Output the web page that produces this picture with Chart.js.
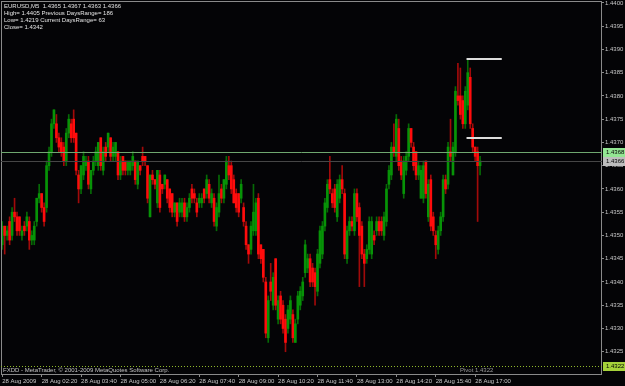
<!DOCTYPE html>
<html>
<head>
<meta charset="utf-8">
<script src="https://cdn.jsdelivr.net/npm/chart.js@4.4.1/dist/chart.umd.min.js"></script>
<style>
  html, body { margin: 0; padding: 0; background: #040406; overflow: hidden; }
  #c { display: block; }
</style>
</head>
<body>
<canvas id="c" width="625" height="386"></canvas>
<script>
// EURUSD M5, 28 Aug 2009, first bar 01:00, one bar every 5 minutes
const opens = [
  1.4348,1.4352,1.4350,1.4353,1.4350,1.4355,1.4354,1.4354,1.4350,1.4352,
  1.4352,1.4353,1.4349,1.4349,1.4353,1.4358,1.4359,1.4356,1.4356,1.4365,
  1.4368,1.4374,1.4374,1.4371,1.4370,1.4369,1.4366,1.4372,1.4374,1.4375,
  1.4372,1.4363,1.4360,1.4363,1.4365,1.4366,1.4360,1.4364,1.4366,1.4365,
  1.4371,1.4364,1.4369,1.4369,1.4371,1.4367,1.4367,1.4368,1.4363,1.4367,
  1.4366,1.4364,1.4364,1.4365,1.4366,1.4361,1.4365,1.4367,1.4367,1.4365,
  1.4354,1.4363,1.4362,1.4357,1.4363,1.4361,1.4361,1.4362,1.4360,1.4359,
  1.4355,1.4357,1.4355,1.4355,1.4357,1.4354,1.4356,1.4360,1.4359,1.4357,
  1.4357,1.4357,1.4360,1.4359,1.4361,1.4357,1.4358,1.4352,1.4355,1.4360,
  1.4358,1.4361,1.4365,1.4365,1.4362,1.4359,1.4359,1.4358,1.4356,1.4352,
  1.4348,1.4347,1.4351,1.4351,1.4358,1.4348,1.4347,1.4340,1.4328,1.4340,
  1.4335,1.4345,1.4332,1.4337,1.4335,1.4332,1.4330,1.4332,1.4333,1.4327,
  1.4332,1.4335,1.4337,1.4342,1.4343,1.4345,1.4343,1.4342,1.4338,1.4344,
  1.4346,1.4352,1.4356,1.4362,1.4359,1.4360,1.4354,1.4358,1.4362,1.4359,
  1.4345,1.4351,1.4353,1.4351,1.4359,1.4356,1.4352,1.4346,1.4345,1.4347,
  1.4346,1.4350,1.4351,1.4353,1.4353,1.4350,1.4353,1.4361,1.4363,1.4369,
  1.4367,1.4373,1.4366,1.4359,1.4364,1.4367,1.4373,1.4369,1.4368,1.4363,
  1.4358,1.4358,1.4366,1.4354,1.4362,1.4354,1.4350,1.4347,1.4351,1.4354,
  1.4362,1.4361,1.4368,1.4363,1.4368,1.4380,1.4380,1.4379,1.4374,1.4378,
  1.4384,1.4373,1.4369,1.4368,1.4365
];
const highs = [
  1.4353,1.4352,1.4352,1.4354,1.4356,1.4358,1.4355,1.4354,1.4352,1.4353,
  1.4355,1.4354,1.4351,1.4353,1.4358,1.4361,1.4359,1.4357,1.4366,1.4369,
  1.4375,1.4377,1.4376,1.4372,1.4371,1.4370,1.4373,1.4376,1.4375,1.4377,
  1.4372,1.4364,1.4365,1.4368,1.4367,1.4367,1.4364,1.4367,1.4369,1.4370,
  1.4371,1.4369,1.4370,1.4372,1.4371,1.4370,1.4370,1.4368,1.4367,1.4367,
  1.4366,1.4366,1.4366,1.4368,1.4366,1.4366,1.4365,1.4369,1.4367,1.4365,
  1.4363,1.4364,1.4362,1.4364,1.4364,1.4361,1.4363,1.4362,1.4360,1.4359,
  1.4357,1.4357,1.4358,1.4358,1.4358,1.4357,1.4359,1.4361,1.4360,1.4358,
  1.4359,1.4359,1.4360,1.4363,1.4362,1.4360,1.4359,1.4357,1.4363,1.4361,
  1.4362,1.4367,1.4367,1.4366,1.4363,1.4360,1.4359,1.4362,1.4357,1.4353,
  1.4348,1.4353,1.4361,1.4358,1.4359,1.4348,1.4347,1.4341,1.4337,1.4344,
  1.4342,1.4345,1.4337,1.4338,1.4336,1.4333,1.4335,1.4337,1.4334,1.4332,
  1.4338,1.4339,1.4341,1.4349,1.4346,1.4346,1.4344,1.4343,1.4347,1.4352,
  1.4353,1.4358,1.4362,1.4367,1.4360,1.4361,1.4362,1.4363,1.4365,1.4360,
  1.4352,1.4354,1.4354,1.4360,1.4360,1.4357,1.4353,1.4347,1.4348,1.4354,
  1.4354,1.4351,1.4354,1.4354,1.4354,1.4355,1.4361,1.4365,1.4370,1.4374,
  1.4376,1.4375,1.4367,1.4367,1.4368,1.4374,1.4373,1.4370,1.4368,1.4366,
  1.4365,1.4366,1.4366,1.4362,1.4363,1.4355,1.4351,1.4352,1.4355,1.4363,
  1.4363,1.4370,1.4375,1.4370,1.4382,1.4387,1.4386,1.4380,1.4382,1.4388,
  1.4386,1.4374,1.4369,1.4369,1.4367
];
const lows = [
  1.4347,1.4346,1.4349,1.4348,1.4349,1.4353,1.4350,1.4350,1.4349,1.4350,
  1.4351,1.4347,1.4348,1.4348,1.4352,1.4357,1.4355,1.4352,1.4355,1.4364,
  1.4367,1.4373,1.4370,1.4368,1.4367,1.4365,1.4365,1.4371,1.4370,1.4370,
  1.4363,1.4357,1.4359,1.4362,1.4364,1.4360,1.4359,1.4363,1.4365,1.4364,
  1.4364,1.4363,1.4366,1.4368,1.4366,1.4366,1.4366,1.4362,1.4362,1.4363,
  1.4363,1.4363,1.4363,1.4364,1.4361,1.4360,1.4363,1.4365,1.4365,1.4357,
  1.4354,1.4361,1.4360,1.4356,1.4355,1.4359,1.4360,1.4357,1.4355,1.4354,
  1.4354,1.4352,1.4354,1.4354,1.4353,1.4353,1.4355,1.4357,1.4357,1.4354,
  1.4356,1.4356,1.4357,1.4358,1.4357,1.4356,1.4352,1.4351,1.4354,1.4357,
  1.4357,1.4360,1.4362,1.4359,1.4357,1.4355,1.4354,1.4357,1.4352,1.4347,
  1.4344,1.4346,1.4350,1.4350,1.4345,1.4344,1.4340,1.4328,1.4327,1.4336,
  1.4334,1.4334,1.4331,1.4331,1.4329,1.4325,1.4329,1.4331,1.4327,1.4327,
  1.4331,1.4334,1.4336,1.4341,1.4342,1.4339,1.4339,1.4335,1.4337,1.4343,
  1.4345,1.4351,1.4355,1.4359,1.4356,1.4355,1.4353,1.4357,1.4359,1.4345,
  1.4344,1.4350,1.4351,1.4350,1.4353,1.4339,1.4345,1.4339,1.4344,1.4346,
  1.4345,1.4348,1.4350,1.4350,1.4350,1.4349,1.4352,1.4360,1.4362,1.4367,
  1.4366,1.4364,1.4362,1.4358,1.4363,1.4366,1.4369,1.4364,1.4362,1.4362,
  1.4358,1.4357,1.4358,1.4353,1.4351,1.4350,1.4345,1.4346,1.4350,1.4353,
  1.4359,1.4360,1.4366,1.4363,1.4367,1.4378,1.4375,1.4373,1.4373,1.4377,
  1.4373,1.4368,1.4366,1.4353,1.4363
];
const closes = [
  1.4352,1.4350,1.4351,1.4349,1.4355,1.4354,1.4351,1.4351,1.4351,1.4351,
  1.4354,1.4349,1.4350,1.4352,1.4358,1.4359,1.4356,1.4353,1.4365,1.4368,
  1.4374,1.4377,1.4371,1.4369,1.4368,1.4366,1.4372,1.4375,1.4371,1.4371,
  1.4364,1.4360,1.4365,1.4367,1.4366,1.4361,1.4364,1.4366,1.4368,1.4370,
  1.4365,1.4368,1.4367,1.4372,1.4367,1.4369,1.4370,1.4363,1.4366,1.4364,
  1.4364,1.4366,1.4366,1.4367,1.4362,1.4366,1.4364,1.4366,1.4366,1.4358,
  1.4363,1.4362,1.4361,1.4364,1.4356,1.4360,1.4363,1.4358,1.4356,1.4355,
  1.4357,1.4353,1.4357,1.4357,1.4354,1.4356,1.4358,1.4358,1.4358,1.4355,
  1.4358,1.4358,1.4358,1.4362,1.4358,1.4359,1.4353,1.4356,1.4359,1.4358,
  1.4362,1.4366,1.4363,1.4360,1.4357,1.4356,1.4355,1.4361,1.4353,1.4348,
  1.4346,1.4352,1.4355,1.4357,1.4346,1.4345,1.4341,1.4329,1.4336,1.4338,
  1.4341,1.4335,1.4336,1.4332,1.4330,1.4327,1.4334,1.4336,1.4328,1.4331,
  1.4337,1.4338,1.4340,1.4348,1.4345,1.4340,1.4340,1.4339,1.4346,1.4351,
  1.4352,1.4357,1.4361,1.4360,1.4357,1.4356,1.4361,1.4362,1.4360,1.4346,
  1.4351,1.4353,1.4352,1.4359,1.4354,1.4350,1.4346,1.4344,1.4347,1.4353,
  1.4353,1.4349,1.4353,1.4351,1.4351,1.4354,1.4360,1.4364,1.4369,1.4368,
  1.4375,1.4365,1.4363,1.4366,1.4367,1.4373,1.4370,1.4365,1.4363,1.4365,
  1.4364,1.4365,1.4359,1.4361,1.4352,1.4351,1.4348,1.4351,1.4354,1.4362,
  1.4360,1.4369,1.4367,1.4369,1.4381,1.4379,1.4376,1.4374,1.4381,1.4385,
  1.4374,1.4369,1.4367,1.4365,1.4366
];

const xTickLabels = ["28 Aug 2009","28 Aug 02:20","28 Aug 03:40","28 Aug 05:00","28 Aug 06:20",
  "28 Aug 07:40","28 Aug 09:00","28 Aug 10:20","28 Aug 11:40","28 Aug 13:00",
  "28 Aug 14:20","28 Aug 15:40","28 Aug 17:00"];
const yTicks = [1.4400,1.4395,1.4390,1.4385,1.4380,1.4375,1.4370,1.4365,1.4360,
  1.4355,1.4350,1.4345,1.4340,1.4335,1.4330,1.4325];

const askPrice = 1.4368;
const bidPrice = 1.4366;
const pivotPrice = 1.4322;
const rangeLines = [1.4388, 1.4371];
const infoLines = [
  "EURUSD,M5  1.4365 1.4367 1.4363 1.4366",
  "High= 1.4405 Previous DaysRange= 186",
  "Low= 1.4219 Current DaysRange= 63",
  "Close= 1.4342"
];

// 5-minute slots across the visible window (chart keeps empty space on the right)
const times = [];
for (let i = 0; i < 244; i++) {
  const m = 60 + i * 5;
  times.push("28 Aug " + String(Math.floor(m / 60)).padStart(2, "0") + ":" + String(m % 60).padStart(2, "0"));
}

const UP = "#079307", DOWN = "#ff0c0c";
const UP_WICK = "#066a06", DOWN_WICK = "#a10a0a";
const FRAME = "#8a8a8a";
const FONT = "Liberation Sans";
const isUp = closes.map((c, i) => c >= opens[i]);

const noPad = s => { s.paddingTop = 0; s.paddingBottom = 0; s.paddingLeft = 0; s.paddingRight = 0; };

const overlay = {
  id: "mtOverlay",
  afterDraw(chart) {
    const { ctx, chartArea: a, scales: { x, y } } = chart;
    ctx.save();

    // frame
    ctx.strokeStyle = FRAME;
    ctx.lineWidth = 1;
    ctx.strokeRect(a.left + 0.5, a.top + 0.5, a.right - a.left - 1, a.bottom - a.top - 1);

    // ask / bid lines
    const line = (v, col) => {
      const py = Math.round(y.getPixelForValue(v)) + 0.5;
      ctx.strokeStyle = col;
      ctx.beginPath(); ctx.moveTo(a.left, py); ctx.lineTo(a.right, py); ctx.stroke();
    };
    line(askPrice, "#6fa86f");
    line(bidPrice, "#464646");

    // pivot dotted line
    const pv = Math.round(y.getPixelForValue(pivotPrice)) + 0.5;
    ctx.strokeStyle = "#8fb82a";
    ctx.setLineDash([1, 2]);
    ctx.beginPath(); ctx.moveTo(a.left, pv); ctx.lineTo(a.right, pv); ctx.stroke();
    ctx.setLineDash([]);

    // range markers
    ctx.strokeStyle = "#dcdcdc";
    ctx.lineWidth = 2;
    const x0 = x.getPixelForValue(188.5), x1 = x.getPixelForValue(202.8);
    rangeLines.forEach(v => {
      const py = Math.round(y.getPixelForValue(v));
      ctx.beginPath(); ctx.moveTo(x0, py); ctx.lineTo(x1, py); ctx.stroke();
    });
    ctx.lineWidth = 1;

    // price boxes on the axis
    const box = (v, bg) => {
      const py = Math.round(y.getPixelForValue(v));
      ctx.fillStyle = bg;
      ctx.fillRect(a.right + 1, py - 4, 625 - a.right - 1, 9);
      ctx.fillStyle = "#000";
      ctx.font = "6px '" + FONT + "'";
      ctx.textBaseline = "middle";
      ctx.textAlign = "left";
      ctx.fillText(v.toFixed(4), a.right + 4, py + 0.5);
    };
    box(askPrice, "#93e693");
    box(bidPrice, "#bdbdbd");
    box(pivotPrice, "#a6d23a");

    // texts
    ctx.textBaseline = "middle";
    ctx.textAlign = "left";
    ctx.font = "6px '" + FONT + "'";
    ctx.fillStyle = "#e2e2e2";
    infoLines.forEach((t, k) => ctx.fillText(t, 4, 6 + k * 7));
    ctx.fillStyle = "#c4c4c4";
    ctx.fillText("FXDD - MetaTrader, \u00a9 2001-2009 MetaQuotes Software Corp.", 3, 370);
    ctx.fillStyle = "#9a9a9a";
    ctx.fillText("Pivot " + pivotPrice.toFixed(4), 460, 370);

    ctx.restore();
  }
};

new Chart(document.getElementById("c").getContext("2d"), {
  type: "bar",
  data: {
    labels: times,
    datasets: [
      { label: "wick", data: lows.map((l, i) => [l, highs[i]]),
        backgroundColor: isUp.map(u => u ? UP_WICK : DOWN_WICK),
        barThickness: 1, grouped: false, order: 2 },
      { label: "body", data: opens.map((o, i) => [o, closes[i]]),
        backgroundColor: isUp.map(u => u ? UP : DOWN),
        barThickness: 2, minBarLength: 1, grouped: false, order: 1 }
    ]
  },
  options: {
    responsive: false,
    animation: false,
    devicePixelRatio: 1,
    layout: { padding: { left: 1, top: 1, right: 0, bottom: 0 } },
    plugins: { legend: { display: false }, tooltip: { enabled: false } },
    scales: {
      x: {
        offset: true,
        border: { display: false },
        grid: { display: true, offset: false, drawOnChartArea: false, drawTicks: true, tickLength: 2, color: FRAME },
        afterBuildTicks: s => { s.ticks = xTickLabels.map((_, k) => ({ value: k * 16 })); },
        ticks: { autoSkip: false, maxRotation: 0, align: "start", padding: 1, color: "#c8c8c8",
          font: { family: FONT, size: 6 }, callback: v => xTickLabels[v / 16] },
        afterFit: s => { s.height = 11; noPad(s); }
      },
      y: {
        position: "right",
        min: 1.4320,
        max: 1.44004,
        border: { display: false },
        grid: { display: true, drawOnChartArea: false, drawTicks: true, tickLength: 2, color: FRAME },
        afterBuildTicks: s => { s.ticks = yTicks.map(v => ({ value: v })); },
        ticks: { padding: 1, color: "#c8c8c8", font: { family: FONT, size: 6 }, callback: v => v.toFixed(4) },
        afterFit: s => { s.width = 23; noPad(s); }
      }
    }
  },
  plugins: [overlay]
});
</script>
</body>
</html>
